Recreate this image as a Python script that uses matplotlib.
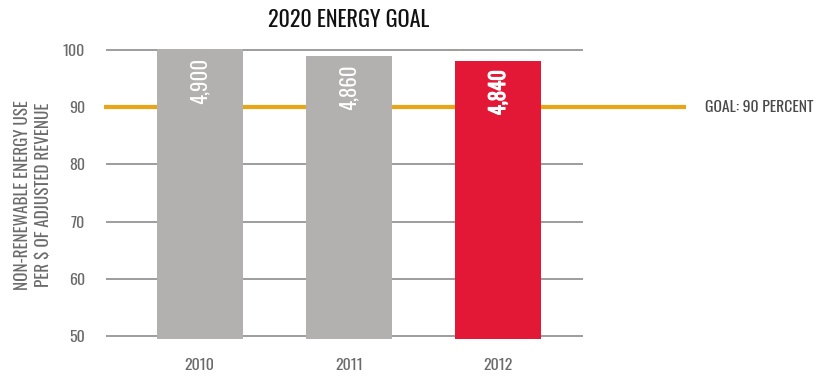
import matplotlib
matplotlib.use('Agg')
import matplotlib.pyplot as plt
import matplotlib.patheffects as pe

years = ['2010', '2011', '2012']
values = [100.2, 99.0, 98.1]
labels = ['4,900', '4,860', '4,840']
bar_colors = ['#B2B1AF', '#B2B1AF', '#E31837']
goal = 90
y_ticks = [50, 60, 70, 80, 90, 100]

plt.rcParams['font.family'] = ['Oswald', 'Roboto Condensed', 'Barlow Condensed', 'DejaVu Sans']
plt.rcParams['font.weight'] = 'light'

fig = plt.figure(figsize=(8.27, 3.77), dpi=100)
ax = fig.add_axes([0.128, 0.0936, 0.577, 0.789])

base = 49.5
x = list(range(len(years)))

# goal line, runs past the axes to the label
ax.plot([-0.645, 3.26], [goal, goal], color='#E8A617', lw=3, clip_on=False, zorder=2,
        solid_capstyle='butt')
ax.text(3.39, goal, 'GOAL: 90 PERCENT', fontsize=11.3, color='#4A4A4A', va='center', ha='left')

ax.bar(x, [v - base for v in values], bottom=base, width=0.58, color=bar_colors, zorder=3)

for i, (v, lab) in enumerate(zip(values, labels)):
    t = ax.text(i, v - 1.6, lab, rotation=90, ha='center', va='top', color='white', fontsize=15,
                zorder=4)
    if i == 2:
        t.set_path_effects([pe.withStroke(linewidth=0.7, foreground='white')])

ax.set_xlim(-0.63, 2.57)
ax.set_ylim(49, 101)
ax.set_yticks(y_ticks)
ax.set_xticks(x)
ax.set_xticklabels(years)
ax.yaxis.grid(True, color='#8C8C8C', lw=1.2)
ax.set_axisbelow(True)
ax.tick_params(length=0, labelsize=11.5, colors='#6B6B6B')
ax.tick_params(axis='y', pad=15)
ax.tick_params(axis='x', pad=12)
for s in ax.spines.values():
    s.set_visible(False)

fig.text(33 / 827, 1 - 195 / 377, 'NON-RENEWABLE ENERGY USE\nPER $ OF ADJUSTED REVENUE',
         fontsize=12.3, color='#6B6B6B', linespacing=1.3, rotation=90, ha='center', va='center')
fig.text(349 / 827, 1 - 20 / 377, '2020 ENERGY GOAL', fontsize=16, ha='center', va='center',
         color='#111111')

fig.savefig('out.png', dpi=100)
